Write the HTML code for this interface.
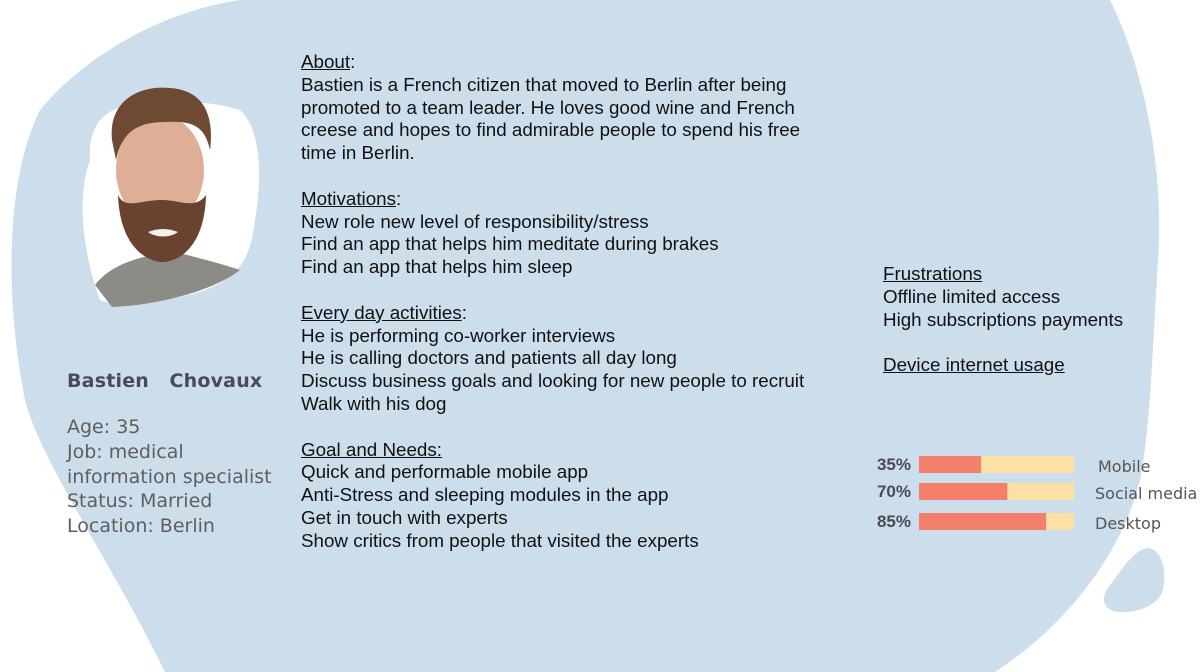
<!DOCTYPE html>
<html><head><meta charset="utf-8"><style>
html,body{margin:0;padding:0;width:1200px;height:672px;overflow:hidden;background:#fff}
.t{position:absolute;font-family:"Liberation Sans",Arial,sans-serif;font-size:18.8px;color:#111;line-height:22.8px;white-space:nowrap}
u{text-decoration:underline}
.info{position:absolute;left:67px;font-family:"DejaVu Sans","Liberation Sans",sans-serif;font-size:19px;color:#5e5e5e;line-height:24.8px;white-space:nowrap}
</style></head><body>
<svg width="1200" height="672" style="position:absolute;left:0;top:0">
<path d="M240,0 L1110,0 C1140,60 1165,160 1158,260 C1152,360 1150,430 1140,480 C1120,560 1060,630 995,672 L165,672 C110,560 40,460 25,400 C5,300 5,180 40,110 C90,50 170,10 240,0 Z" fill="#ccdeec"/>
<path d="M1148,548 C1162,550 1167,570 1163,590 C1158,605 1140,613 1118,612 C1104,610 1100,600 1108,588 C1120,572 1135,548 1148,548 Z" fill="#ccdeec"/>
<g>
<path d="M90,160 C88,130 100,110 130,105 C170,100 210,100 240,110 C262,130 262,180 255,220 C250,260 240,290 160,300 C130,305 110,305 100,300 C85,260 75,200 90,160 Z" fill="#fff"/>
<path d="M95,285 C110,265 140,255 175,252 C200,258 225,265 240,270 C215,290 160,305 112,307 Z" fill="#8c8b85"/>
<ellipse cx="160" cy="170" rx="44" ry="55" fill="#dfae96"/>
<path d="M118,195 C120,250 150,262 162,262 C180,262 205,245 206,195 C195,210 180,200 162,200 C140,200 125,210 118,195 Z" fill="#6a4230"/>
<path d="M148,232 C158,228 168,228 178,232 C170,238 156,238 148,232 Z" fill="#f4f0ea"/>
<path d="M112,140 C108,100 140,85 170,88 C200,90 215,110 210,150 C205,128 195,120 165,122 C140,122 122,130 116,160 Z" fill="#6e4a35"/>
</g>
</svg>

<div class="t" style="left:301px;top:51px">
<u>About</u>:<br>Bastien is a French citizen that moved to Berlin after being<br>promoted to a team leader. He loves good wine and French<br>creese and hopes to find admirable people to spend his free<br>time in Berlin.<br><br>
<u>Motivations</u>:<br>New role new level of responsibility/stress<br>Find an app that helps him meditate during brakes<br>Find an app that helps him sleep<br><br>
<u>Every day activities</u>:<br>He is performing co-worker interviews<br>He is calling doctors and patients all day long<br>Discuss business goals and looking for new people to recruit<br>Walk with his dog<br><br>
<u>Goal and Needs:</u><br>Quick and performable mobile app<br>Anti-Stress and sleeping modules in the app<br>Get in touch with experts<br>Show critics from people that visited the experts
</div>

<div class="t" style="left:883px;top:263px">
<u>Frustrations</u><br>Offline limited access<br>High subscriptions payments<br><br><u>Device internet usage</u>
</div>

<div style="position:absolute;left:67px;top:370px;font-family:'DejaVu Sans','Liberation Sans',sans-serif;font-weight:bold;font-size:19px;color:#4a4a5c;letter-spacing:0.2px;white-space:pre">Bastien   Chovaux</div>
<div class="info" style="top:415px">Age: 35<br>Job: medical<br>information specialist<br>Status: Married<br>Location: Berlin</div>

<svg id="chart" width="1200" height="672" style="position:absolute;left:0;top:0"></svg>
<script>
const categories=["Mobile","Social media","Desktop"];
const values=[35,70,85];
const shown=[40,57,82];
const rowsY=[456,483,513];
const svg=document.getElementById('chart');
const NS='http://www.w3.org/2000/svg';
const x0=919,w=155,h=17;
function xs(v){return w*v/100;}
categories.forEach((c,i)=>{
  const y=rowsY[i];
  const bg=document.createElementNS(NS,'rect');
  bg.setAttribute('x',x0);bg.setAttribute('y',y);bg.setAttribute('width',w);bg.setAttribute('height',h);bg.setAttribute('fill','#fde0a3');
  
  
  svg.appendChild(bg);
  const r=document.createElementNS(NS,'rect');
  r.setAttribute('x',x0);r.setAttribute('y',y);r.setAttribute('width',xs(shown[i]));r.setAttribute('height',h);r.setAttribute('fill','#f47f6b');
  
  
  svg.appendChild(r);
  const p=document.createElementNS(NS,'text');
  p.setAttribute('x',911);p.setAttribute('y',y+14);p.setAttribute('text-anchor','end');
  p.setAttribute('font-family','Liberation Sans, sans-serif');p.setAttribute('font-weight','bold');p.setAttribute('font-size','17');p.setAttribute('fill','#4a4a55');
  p.textContent=values[i]+'%';
  
  
  svg.appendChild(p);
  const l=document.createElementNS(NS,'text');
  l.setAttribute('x',i==0?1098:1095);l.setAttribute('y',y+16);
  l.setAttribute('font-family','DejaVu Sans, Liberation Sans, sans-serif');l.setAttribute('font-size','16');l.setAttribute('fill','#555');
  l.textContent=c;
  
  
  svg.appendChild(l);
});
</script>
</body></html>
